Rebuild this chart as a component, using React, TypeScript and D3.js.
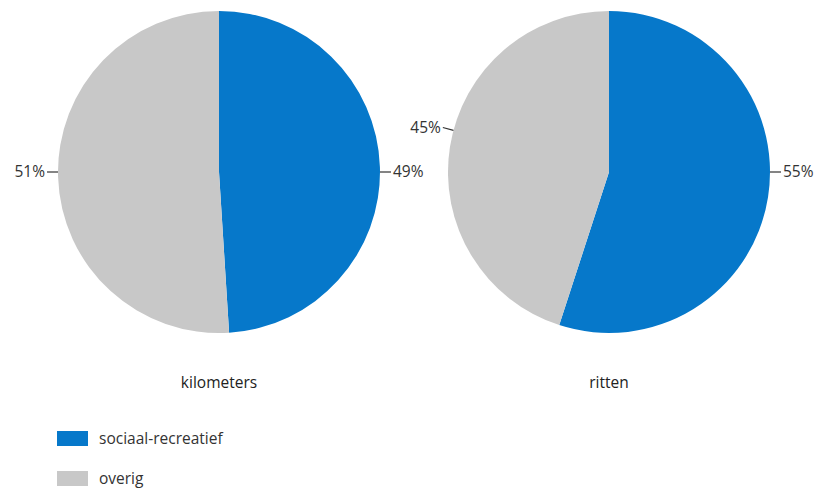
import React from 'react';
import * as d3 from 'd3';

const categories = ['sociaal-recreatief', 'overig'];
const kilometers = [49, 51];
const ritten = [55, 45];
const pieTitles = ['kilometers', 'ritten'];
// angle (degrees, clockwise from top) where each slice label's leader touches the rim
const labelAngles = [
  [90, 270],
  [90, 285],
];

const colors = d3.scaleOrdinal<string, string>().domain(categories).range(['#0678ca', '#c8c8c8']);

const W = 819;
const H = 489;
const R = 161;
const centers = [
  { x: 219, y: 172 },
  { x: 609, y: 172 },
];
const font = '"Open Sans", "DejaVu Sans", sans-serif';
const fs = 15.5;

const Pie = ({ values, cx, cy, angles, title }: any) => {
  const pie = d3.pie<number>().sort(null).value((d) => d);
  const arc = d3.arc<d3.PieArcDatum<number>>().innerRadius(0).outerRadius(R);
  const arcs = pie(values);
  return (
    <g transform={`translate(${cx},${cy})`}>
      {arcs.map((a, i) => (
        <path key={i} d={arc(a) || ''} fill={colors(categories[i])} />
      ))}
      {arcs.map((a, i) => {
        const ang = (angles[i] * Math.PI) / 180;
        const sx = Math.sin(ang);
        const sy = -Math.cos(ang);
        const x1 = sx * R;
        const y1 = sy * R;
        const x2 = sx * (R + 11);
        const y2 = sy * (R + 11);
        const right = sx > 0;
        return (
          <g key={'l' + i}>
            <line x1={x1} y1={y1} x2={x2} y2={y2} stroke="#333" strokeWidth={1.2} />
            <text
              x={x2 + (right ? 2 : -2)}
              y={y2}
              dy="0.35em"
              textAnchor={right ? 'start' : 'end'}
              fontSize={fs}
              fill="#333"
              fontFamily={font}
            >
              {values[i]}%
            </text>
          </g>
        );
      })}
      <text x={0} y={211} dy="0.35em" textAnchor="middle" fontSize={fs} fill="#222" fontFamily={font}>
        {title}
      </text>
    </g>
  );
};

export default function App() {
  return (
    <svg width={W} height={H} style={{ position: 'absolute', left: 0, top: 0, background: '#fff' }}>
      <Pie values={kilometers} cx={centers[0].x} cy={centers[0].y} angles={labelAngles[0]} title={pieTitles[0]} />
      <Pie values={ritten} cx={centers[1].x} cy={centers[1].y} angles={labelAngles[1]} title={pieTitles[1]} />
      {categories.map((c, i) => (
        <g key={c} transform={`translate(57,${431 + i * 40})`}>
          <rect width={31} height={15} fill={colors(c)} />
          <text x={42} y={7.5} dy="0.35em" fontSize={fs} fill="#333" fontFamily={font}>
            {c}
          </text>
        </g>
      ))}
    </svg>
  );
}
